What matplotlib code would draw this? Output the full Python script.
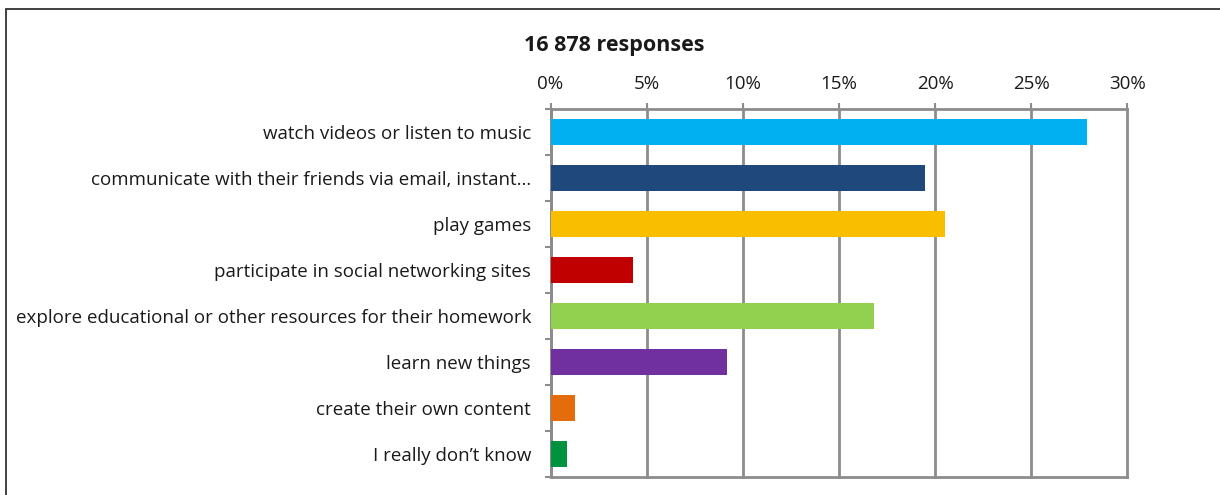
import matplotlib.pyplot as plt
from matplotlib.patches import Rectangle

categories = [
    "watch videos or listen to music",
    "communicate with their friends via email, instant\u2026",
    "play games",
    "participate in social networking sites",
    "explore educational or other resources for their homework",
    "learn new things",
    "create their own content",
    "I really don\u2019t know",
]
shares = [27.9, 19.5, 20.5, 4.3, 16.8, 9.2, 1.3, 0.85]
colors = ["#00B0F0", "#1F497D", "#F9BE00", "#C00000",
          "#92D050", "#7030A0", "#E46C0A", "#00923F"]
ticks = [0, 5, 10, 15, 20, 25, 30]
title = "16 878 responses"

plt.rcParams['font.family'] = ['Open Sans', 'DejaVu Sans']
W, H = 1220, 495
fig = plt.figure(figsize=(W / 100, H / 100), dpi=100)

# outer frame, runs off the right and bottom edges
fig.patches.append(Rectangle((6 / W, -0.1), 1.2, (H - 9) / H + 0.1,
                             transform=fig.transFigure, fill=False,
                             edgecolor="#333333", linewidth=1.3))

ax = fig.add_axes([550.5 / W, 18 / H, (1127.3 - 550.5) / W, 368 / H])
n = len(categories)
ax.barh(range(n), shares, height=0.55, color=colors, zorder=3)
ax.set_ylim(n - 0.5, -0.5)
ax.set_xlim(0, 30)

grid_c = "#8C8C8C"
ax.set_xticks(ticks)
ax.set_xticklabels([f"{t}%" for t in ticks])
ax.xaxis.tick_top()
ax.tick_params(axis="x", direction="out", length=4.5, width=1.5, color=grid_c,
               labelsize=13.5, labelcolor="#1a1a1a", pad=7)
ax.grid(axis="x", color=grid_c, linewidth=2, zorder=1)
for gl in ax.get_xgridlines():
    gl.set_clip_on(False)

ax.set_yticks([i - 0.5 for i in range(n + 1)], minor=False)
ax.set_yticklabels([])
ax.set_yticks(range(n), minor=True)
ax.set_yticklabels(categories, minor=True)
ax.tick_params(axis="y", which="major", direction="out", length=4.5,
               width=1.5, color=grid_c)
ax.tick_params(axis="y", which="minor", length=0, labelsize=13.5,
               labelcolor="#1a1a1a", pad=14)

for s in ["top", "left", "bottom"]:
    ax.spines[s].set_color(grid_c)
    ax.spines[s].set_linewidth(2)
ax.spines["right"].set_visible(False)

fig.text(614 / W, 1 - 46 / H, title, ha="center", va="center",
         fontsize=15.5, fontweight="bold", color="#1a1a1a")

fig.savefig("out.png", dpi=100)
